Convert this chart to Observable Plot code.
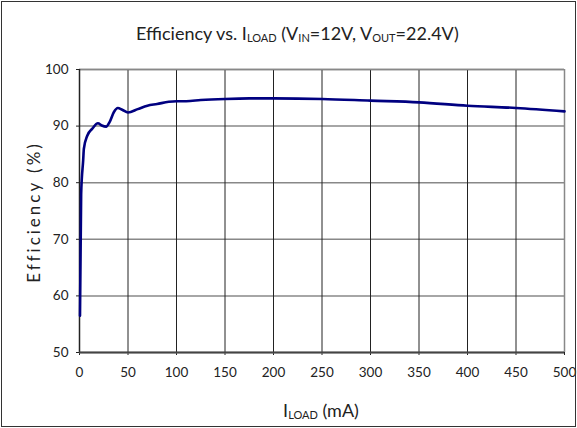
<!DOCTYPE html>
<html>
<head>
<meta charset="utf-8">
<script src="https://cdn.jsdelivr.net/npm/d3@7"></script>
<script src="https://cdn.jsdelivr.net/npm/@observablehq/plot@0.6"></script>
<style>
  html, body { margin: 0; padding: 0; background: #fff; }
  #wrap { position: relative; width: 577px; height: 428px; overflow: hidden; font-family: Lato, "Open Sans", sans-serif; color: #222; }
  #frame { position: absolute; left: 1px; top: 1px; width: 575px; height: 426px; border: 1.5px solid #333; box-sizing: border-box; pointer-events: none; }
  .ttl { position: absolute; white-space: nowrap; font-size: 18px; }
  .ttl sub { font-size: 11px; vertical-align: -0.15em; }
  #title { left: 136px; top: 22px; }
  #xlab { left: 0; width: 642px; text-align: center; top: 399px; }
  #ylab { left: 33px; top: 212px; transform: translate(-50%, -50%) rotate(-90deg); letter-spacing: 3px; font-size: 17px; }
  svg { position: absolute; left: 0; top: 0; }
</style>
</head>
<body>
<div id="wrap"></div>
<script>
// Data
const iLoad = [0.5, 1.7, 3.8, 4.5, 8, 13, 19, 23, 27.5, 31, 35.5, 39.5, 44, 50, 60, 70, 80, 92, 100, 110, 125, 150, 175, 200, 250, 300, 350, 400, 450, 500];
const efficiency = [56.5, 78, 84, 86, 88.3, 89.5, 90.5, 90.1, 89.9, 90.7, 92.5, 93.2, 92.9, 92.4, 93.0, 93.6, 93.9, 94.3, 94.4, 94.4, 94.6, 94.8, 94.9, 94.9, 94.8, 94.5, 94.2, 93.6, 93.2, 92.6];
const xTicks = [0, 50, 100, 150, 200, 250, 300, 350, 400, 450, 500];
const yTicks = [50, 60, 70, 80, 90, 100];

const data = iLoad.map((x, i) => ({x, y: efficiency[i]}));

const chart = Plot.plot({
  width: 577,
  height: 428,
  marginLeft: 79,
  marginRight: 13,
  marginTop: 69,
  marginBottom: 76,
  style: {fontFamily: "Lato, 'Open Sans', sans-serif", fontSize: "13.5px", color: "#222", background: "transparent"},
  x: {domain: [0, 500], ticks: xTicks, label: null, tickSize: 3, tickPadding: 12},
  y: {domain: [50, 100], ticks: yTicks, label: null, tickSize: 3, tickPadding: 8},
  marks: [
    Plot.ruleY(yTicks, {stroke: "#888", strokeWidth: 1.5}),
    Plot.ruleX(xTicks, {stroke: "#222", strokeWidth: 1}),
    Plot.ruleX([500], {stroke: "#888", strokeWidth: 1.5}),
    Plot.ruleY([100], {stroke: "#888", strokeWidth: 1.5}),
    Plot.ruleX([0], {stroke: "#222", strokeWidth: 1.5}),
    Plot.ruleY([50], {stroke: "#444", strokeWidth: 2}),
    Plot.line(data, {x: "x", y: "y", stroke: "#000080", strokeWidth: 2.6, curve: "monotone-x"})
  ]
});

const wrap = document.getElementById("wrap");
wrap.appendChild(chart);
wrap.insertAdjacentHTML("beforeend",
  '<div id="frame"></div>' +
  '<div class="ttl" id="title">Efficiency vs. I<sub>LOAD</sub> (V<sub>IN</sub>=12V, V<sub>OUT</sub>=22.4V)</div>' +
  '<div class="ttl" id="xlab">I<sub>LOAD</sub> (mA)</div>' +
  '<div class="ttl" id="ylab">Efficiency (%)</div>');
</script>
</body>
</html>
